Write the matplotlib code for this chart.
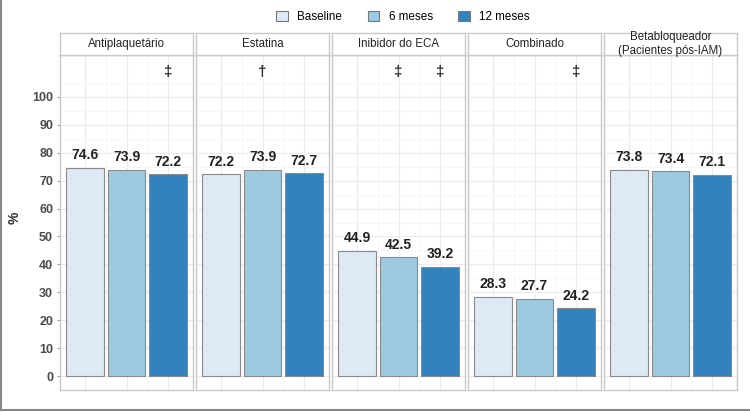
import matplotlib
matplotlib.use('Agg')
import matplotlib.pyplot as plt
from matplotlib.patches import Patch
from matplotlib.lines import Line2D

plt.rcParams['font.family'] = ['Liberation Sans', 'DejaVu Sans']

panels = ['Antiplaquetário', 'Estatina', 'Inibidor do ECA', 'Combinado',
          'Betabloqueador\n(Pacientes pós-IAM)']
groups = ['Baseline', '6 meses', '12 meses']
baseline = [74.6, 72.2, 44.9, 28.3, 73.8]
meses6 = [73.9, 73.9, 42.5, 27.7, 73.4]
meses12 = [72.2, 72.7, 39.2, 24.2, 72.1]
# significance marks: (panel index, bar index, symbol)
marks = [(0, 2, '‡'), (1, 1, '†'), (2, 1, '‡'), (2, 2, '‡'), (3, 2, '‡')]
yticks = [0, 10, 20, 30, 40, 50, 60, 70, 80, 90, 100]

colors = ['#dde9f5', '#9ecae1', '#3182bd']

W, H = 750, 412
fig = plt.figure(figsize=(W / 100, H / 100), dpi=100)

top, bottom = 55, 390
strip_top = 33
for i, name in enumerate(panels):
    left = 60 + i * 136
    width = 133
    ax = fig.add_axes([left / W, (H - bottom) / H, width / W, (bottom - top) / H])
    vals = [baseline[i], meses6[i], meses12[i]]
    xs = [1, 2, 3]
    ax.set_xlim(0.4, 3.6)
    ax.set_ylim(-5, 115)
    ax.set_yticks(yticks)
    ax.set_xticks(xs)
    ax.set_xticks([1.5, 2.5], minor=True)
    ax.set_yticks([5, 15, 25, 35, 45, 55, 65, 75, 85, 95, 105], minor=True)
    ax.grid(True, which='major', color='#ebebeb', lw=0.8)
    ax.grid(True, which='minor', color='#f4f4f4', lw=0.5)
    ax.set_axisbelow(True)
    ax.bar(xs, vals, width=0.9, color=colors, edgecolor='#8a8a8a', lw=0.8, zorder=2)
    for x, v in zip(xs, vals):
        ax.text(x, v + 2.0, f'{v:.1f}', ha='center', va='bottom', fontsize=10,
                fontweight='bold', color='#222222')
    for p, b, s in marks:
        if p == i:
            ax.text(b + 1, 109, s, ha='center', va='center', fontsize=11,
                    fontweight='bold', color='#333333')
    ax.tick_params(axis='x', which='both', length=0, labelbottom=False)
    ax.tick_params(axis='y', which='minor', length=0)
    if i == 0:
        ax.tick_params(axis='y', length=2, color='#999999', labelsize=9, pad=3)
        for lab in ax.get_yticklabels():
            lab.set_fontweight('bold')
            lab.set_color('#4a4a4a')
    else:
        ax.tick_params(axis='y', length=0, labelleft=False)
    for sp in ax.spines.values():
        sp.set_color('#c8c8c8')
        sp.set_linewidth(1.0)

    sax = fig.add_axes([left / W, (H - top) / H, width / W, (top - strip_top) / H])
    sax.set_xticks([])
    sax.set_yticks([])
    for sp in sax.spines.values():
        sp.set_color('#c8c8c8')
        sp.set_linewidth(1.0)
    sax.text(0.5, 0.5, name, ha='center', va='center', fontsize=8.3,
             color='#222222', linespacing=1.15, transform=sax.transAxes)

fig.text(15 / W, 1 - 218 / H, '%', rotation=90, ha='center', va='center',
         fontsize=10, fontweight='bold', color='#333333')

handles = [Patch(facecolor=c, edgecolor='#777777', lw=0.8) for c in colors]
fig.legend(handles, groups, loc='center', bbox_to_anchor=(403 / W, 1 - 17 / H),
           ncol=3, frameon=False, fontsize=8.4, handlelength=1.0, handleheight=1.0,
           columnspacing=2.2, handletextpad=0.8)

# outer frame (left and bottom edge)
fig.add_artist(Line2D([1 / W, 1 / W], [2 / H, 1], color='#888888', lw=1.5))
fig.add_artist(Line2D([1 / W, 1], [2 / H, 2 / H], color='#888888', lw=1.5))

fig.savefig('out.png', dpi=100)
